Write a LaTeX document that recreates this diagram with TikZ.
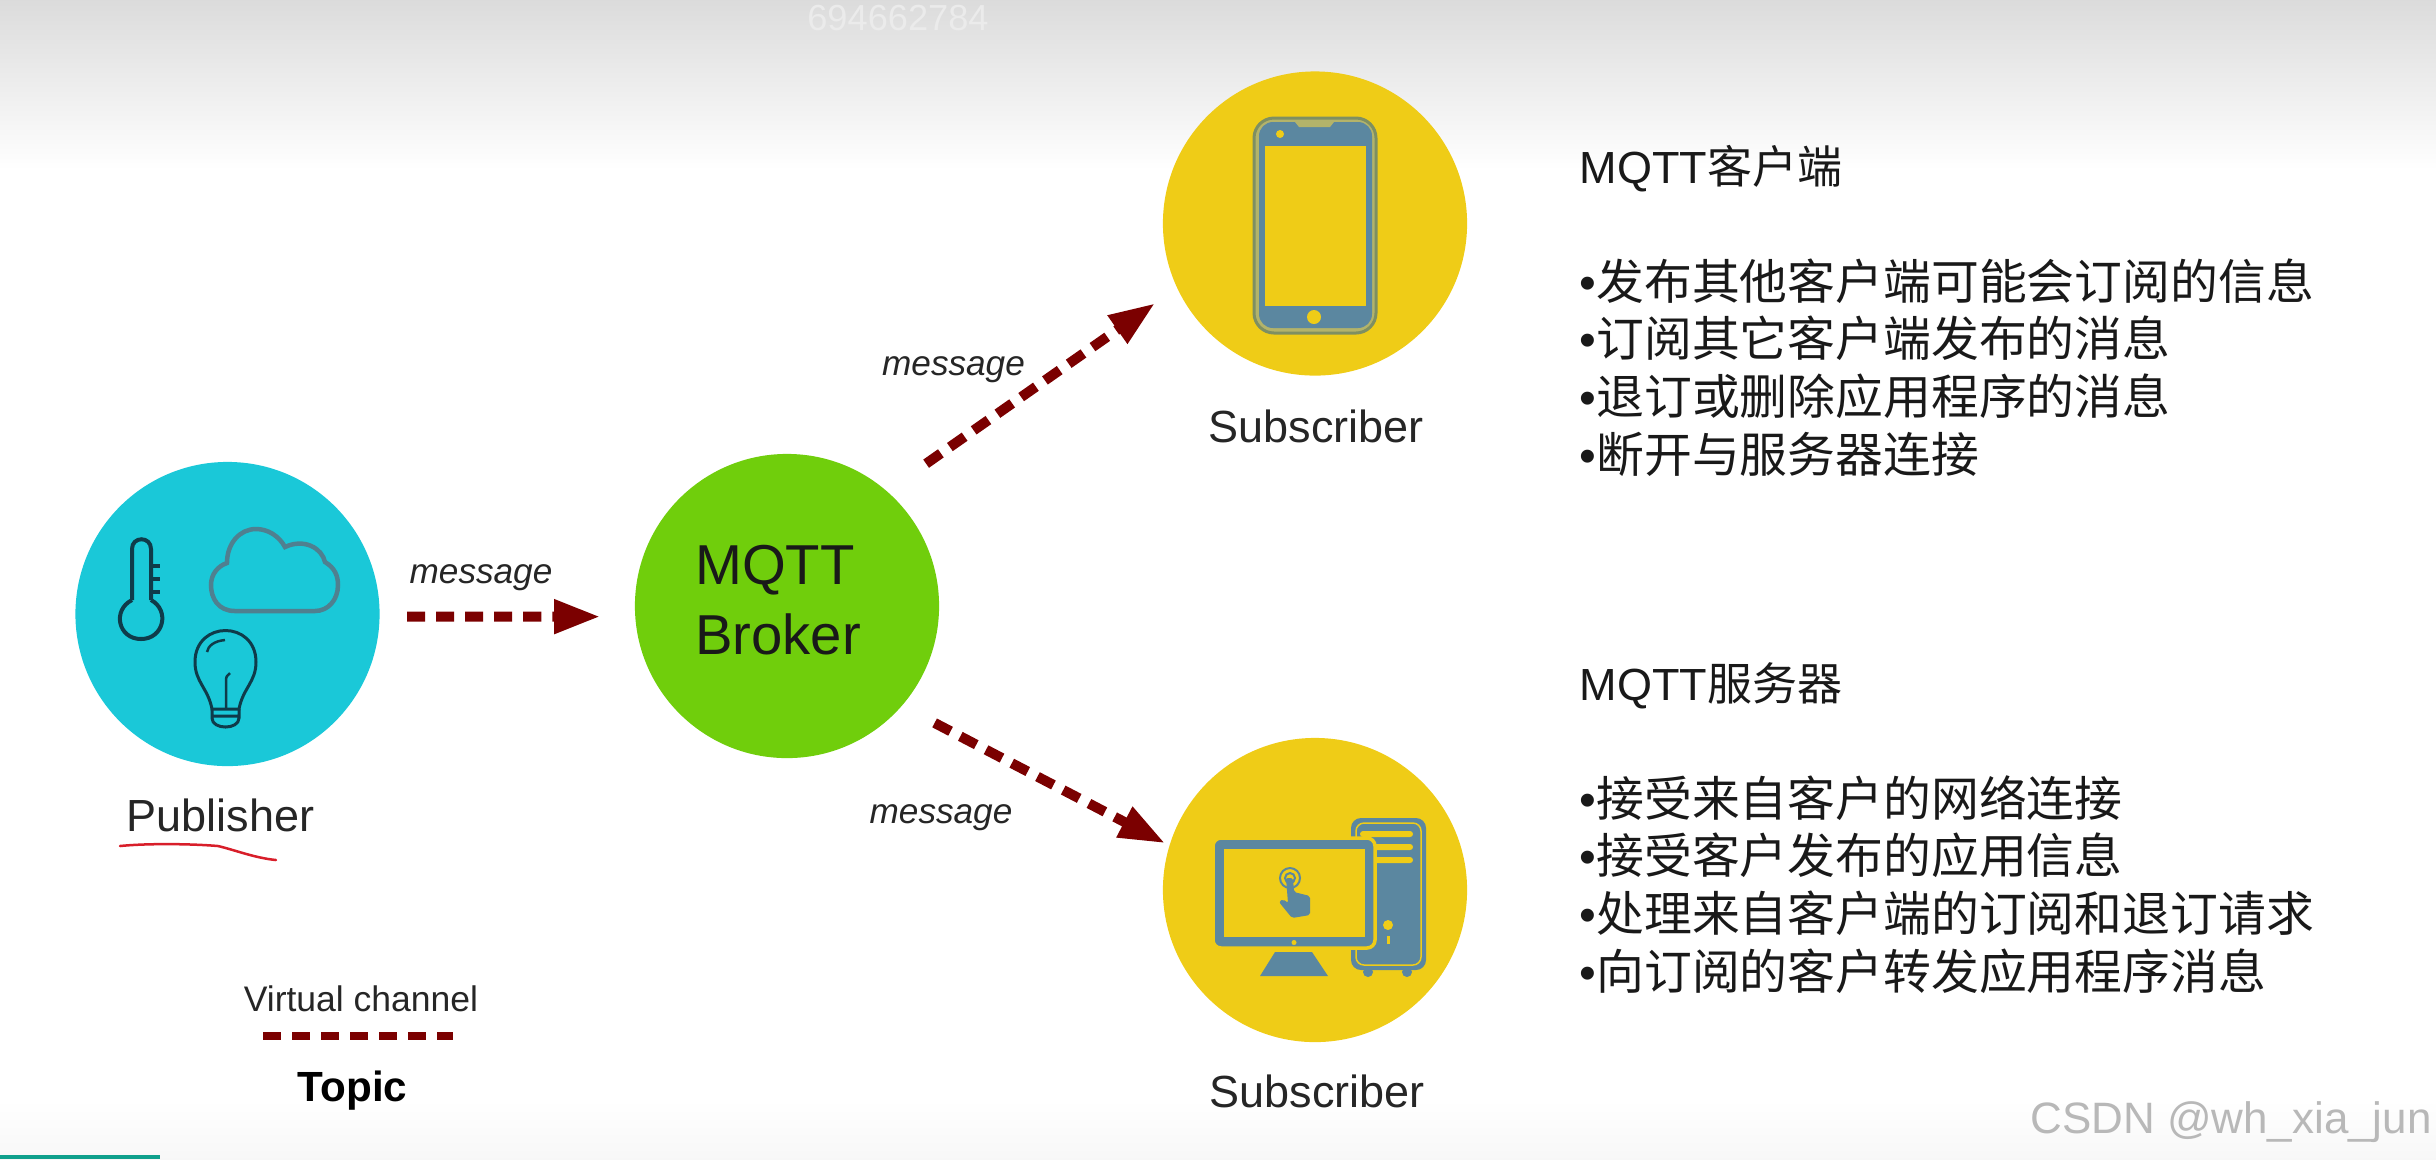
\documentclass[tikz,border=0pt]{standalone}
\usepackage{fontspec}
\setmainfont{Liberation Sans}
\newfontfamily\cjk{Noto Sans CJK SC}
\usepackage{xcolor}
\definecolor{pubteal}{HTML}{1AC8D8}
\definecolor{brokergreen}{HTML}{70CE0C}
\definecolor{subyellow}{HTML}{EFCC17}
\definecolor{slate}{HTML}{5B87A0}
\definecolor{olive}{HTML}{7E8F62}
\definecolor{pale}{HTML}{B3B36A}
\definecolor{maroon}{HTML}{7B0000}
\definecolor{ink}{HTML}{0F3B4A}
\definecolor{cloudline}{HTML}{4F8090}
\definecolor{pen}{HTML}{D81E2A}
\definecolor{barteal}{HTML}{0FA08C}
\usetikzlibrary{positioning,arrows.meta}
\tikzset{
  hub/.style={circle, minimum size=3.04cm, inner sep=0pt, outer sep=0pt},
  role/.style={font=\fontsize{12.8}{15}\selectfont, inner sep=0pt, text=black!85},
  msg/.style={font=\fontsize{10}{12}\selectfont\itshape, inner sep=0pt, text=black!85},
  panel/.style={anchor=west, align=left, inner sep=0pt, text=black!90, font=\fontsize{13.6}{16.4}\selectfont},
  heading/.style={font=\fontsize{12.8}{16.4}\selectfont},
  flow/.style={-{Triangle[length=.46cm,width=.32cm]}, maroon, line width=.1cm, dash pattern=on .18cm off .11cm},
  icon/.style={ink, line width=.04cm},
  slatefill/.style={fill=slate},
}
\begin{document}
\begin{tikzpicture}[x=.01cm, y=-.01cm]
  \useasboundingbox (0,0) rectangle (2436,1159);
  \shade[top color=black!14, bottom color=white] (0,0) rectangle (2436,170);
  \shade[top color=white, bottom color=black!3] (0,1100) rectangle (2436,1159);
  \fill[barteal] (0,1155) rectangle (160,1159);
  \node[font=\fontsize{10.3}{12}\selectfont, text=black!8, inner sep=0pt] (stamp) at (898,18) {694662784};
  \node[font=\fontsize{12.5}{15}\selectfont, text=black!28, inner sep=0pt] (csdn) at (2231,1122) {CSDN @wh\_xia\_jun};

  \node[hub, fill=pubteal] (publisher) at (227.5,614) {};
  \node[hub, fill=brokergreen, align=left, font=\fontsize{16}{20}\selectfont, text=black!90] (broker) at (787,606) {MQTT\\Broker\hspace*{.18cm}\rule[-.12cm]{0pt}{.1cm}};
  \node[hub, fill=subyellow] (phone) at (1315,223.5) {};
  \node[hub, fill=subyellow] (desktop) at (1315,890) {};

  \node[role, below=.32cm of publisher, xshift=-.07cm] (publabel) {Publisher};
  \node[role, below=.34cm of phone, xshift=.01cm] (phonelabel) {Subscriber};
  \node[role, below=.32cm of desktop, xshift=.02cm] (desktoplabel) {Subscriber};

  \draw[flow, shorten <=.276cm, shorten >=.35cm] (publisher.-1.9) -- (broker.184.9);
  \draw[flow, shorten <=.48cm, shorten >=.27cm] (broker.49.6) -- (phone.205.8);
  \draw[flow, shorten <=.37cm, shorten >=.05cm] (broker.-41.6) -- (desktop.163.8);
  \node[msg] (msgpub) at (481,578) {message};
  \node[msg] (msgphone) at (953.5,370) {message};
  \node[msg] (msgdesktop) at (941,818) {message};

  \draw[pen, line width=.025cm, line cap=round] (120,846) .. controls (150,843) and (195,844) .. (218,846) .. controls (235,850) and (255,858) .. (276,860);

  \coordinate (topicstart) at (263,1036);
  \coordinate (topicend) at (453,1036);
  \draw[maroon, line width=.08cm, dash pattern=on .18cm off .11cm] (topicstart) -- (topicend);
  \node[font=\fontsize{10.1}{12}\selectfont, inner sep=0pt, text=black!85] (channel) at (361,998.5) {Virtual channel};
  \node[font=\bfseries\fontsize{12}{14}\selectfont, inner sep=0pt] (topic) at (352.5,1091) {Topic};

  \draw[icon] (132,600) -- (132,549) .. controls (132,536) and (151,536) .. (151,549) -- (151,600);
  \draw[icon] (132,600) .. controls (112,610) and (118,639) .. (141,639) .. controls (164,639) and (170,610) .. (151,600);
  \draw[icon] (151,566) -- (160,566) (151,579) -- (160,579) (151,592) -- (160,592);
  \draw[cloudline, line width=.045cm] (235,611) .. controls (218,611) and (211,598) .. (211,585) .. controls (211,574) and (218,566) .. (227,563) .. controls (227,543) and (240,529) .. (256,529) .. controls (268,529) and (279,536) .. (285,547) .. controls (304,538) and (322,548) .. (325,562) .. controls (335,568) and (338,576) .. (338,585) .. controls (338,600) and (328,611) .. (315,611) -- cycle;
  \draw[icon, line width=.03cm] (212,709) .. controls (208,688) and (195,682) .. (195,662) .. controls (195,620) and (256,620) .. (256,662) .. controls (256,682) and (243,688) .. (239,709) -- cycle;
  \draw[icon, line width=.03cm] (212,709) -- (212,718) .. controls (212,730) and (239,730) .. (239,718) -- (239,709) (212,716) -- (239,716);
  \draw[icon, line width=.025cm] (226,708) -- (226,680) .. controls (226,676) and (228,675) .. (230,673) (207,652) .. controls (208,646) and (214,641) .. (225,640);

  \draw[olive, line width=.03cm, fill=pale, rounded corners=.2cm] (1254,118) rectangle (1376,333);
  \fill[slate, rounded corners=.14cm] (1259,122) rectangle (1372,328);
  \fill[subyellow] (1265,146) rectangle (1366,306);
  \fill[pale] (1295,122) -- (1334,122) -- (1330,127) -- (1299,127) -- cycle;
  \fill[subyellow] (1280,134) circle[radius=4];
  \fill[subyellow] (1314,317) circle[radius=7];

  \fill[slate, rounded corners=.1cm] (1351,818) rectangle (1426,970);
  \draw[subyellow, line width=.015cm, rounded corners=.08cm] (1356,823) rectangle (1421,965);
  \fill[slate] (1368,972) circle[radius=5] (1407,972) circle[radius=5];
  \fill[subyellow, rounded corners=.03cm] (1360,831) rectangle (1413,837) (1360,844) rectangle (1413,850) (1360,857) rectangle (1413,863);
  \fill[subyellow] (1388,925) circle[radius=5];
  \fill[subyellow] (1386.5,936) rectangle (1389.5,944);
  \draw[subyellow, line width=.035cm, slatefill, rounded corners=.08cm] (1213,838) rectangle (1375,948);
  \fill[subyellow] (1224,849) rectangle (1365,937);
  \fill[subyellow] (1294,942.5) circle[radius=2.5];
  \fill[slate] (1275,952) -- (1312,952) -- (1328,976) -- (1260,976) -- cycle;
  \draw[slate, line width=.02cm] (1290,878) circle[radius=10];
  \draw[slate, line width=.02cm] (1290,878) circle[radius=5];
  \fill[slate, rounded corners=.02cm] (1286,878) -- (1293,878) -- (1294,892) -- (1310,896) -- (1310,915) -- (1292,918) -- (1279,902) -- (1283,899) -- (1288,903) -- cycle;

  \node[panel] (clientpanel) at (1579,311) {{\fontsize{12.8}{16.4}\selectfont MQTT{\cjk 客户端}}\\[16.4pt]•{\cjk 发布其他客户端可能会订阅的信息}\\•{\cjk 订阅其它客户端发布的消息}\\•{\cjk 退订或删除应用程序的消息}\\•{\cjk 断开与服务器连接}};
  \node[panel] (serverpanel) at (1579,828) {{\fontsize{12.8}{16.4}\selectfont MQTT{\cjk 服务器}}\\[16.4pt]•{\cjk 接受来自客户的网络连接}\\•{\cjk 接受客户发布的应用信息}\\•{\cjk 处理来自客户端的订阅和退订请求}\\•{\cjk 向订阅的客户转发应用程序消息}};
\end{tikzpicture}
\end{document}
